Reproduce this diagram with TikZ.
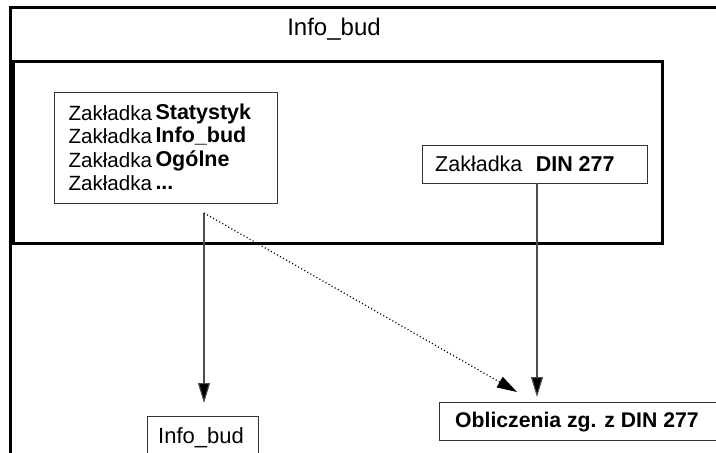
\documentclass[tikz,border=0pt]{standalone}
\usepackage{fontspec}
\setmainfont{Liberation Sans}
\usetikzlibrary{arrows.meta}
\newcommand{\tabname}[1]{\raisebox{1pt}{\fontsize{21.5}{23}\selectfont\bfseries #1}}
\begin{document}
\begin{tikzpicture}[x=1pt,y=-1pt,
  frame/.style={draw=black,line width=3pt},
  tabbox/.style={draw=black!80,line width=0.9pt,rectangle,inner sep=0pt},
  flow/.style={draw=black!70,line width=1.1pt,-{Triangle[length=20pt,width=12pt,fill=black]}},
  hint/.style={draw=black,line width=1.2pt,dash pattern=on 1.1pt off 2.4pt,
    -{Triangle[length=20pt,width=12pt,fill=black]}},
  txt/.style={font=\fontsize{20.6}{23.5}\selectfont,inner sep=0pt}
]
  \useasboundingbox (0,0) rectangle (716,453);
  % outer window (clipped on the right and below)
  \coordinate (ob) at (10.5,460);
  \coordinate (ot) at (10.5,7.5);
  \coordinate (or) at (720,7.5);
  \draw[frame] (ob) -- (ot) -- (or);
  \node[txt,font=\fontsize{24}{26}\selectfont] (title) at (334,29) {Info\_bud};
  % inner panel
  \node[frame,rectangle,inner sep=0pt,minimum width=649pt,minimum height=182pt] (panel) at (337.5,152) {};
  % tab list
  \node[tabbox,minimum width=223pt,minimum height=111pt,align=left,text width=194pt,
        inner xsep=14.5pt,txt] (tabs) at (165.5,147.5)
    {Zakładka\,\tabname{Statystyk}\\Zakładka\,\tabname{Info\_bud}\\Zakładka\,\tabname{Ogólne}\\Zakładka\,\tabname{...}};
  % DIN tab
  \node[tabbox,minimum width=225pt,minimum height=38pt] (din) at (534.5,164) {};
  \node[txt,font=\fontsize{21.5}{23}\selectfont,anchor=base west] (dint) at (435,171)
    {Zakładka\hspace{0.62em}\textbf{DIN 277}};
  % targets
  \node[tabbox,minimum width=111pt,minimum height=44pt,anchor=north west] (info) at (147,416) {};
  \node[txt,font=\fontsize{22}{24}\selectfont,anchor=base west] (infot) at (158,443) {Info\_bud};
  \node[tabbox,minimum width=290pt,minimum height=38pt,anchor=north west] (calc) at (439,402) {};
  \node[txt,font=\fontsize{21.2}{23}\selectfont,anchor=base west] (calct) at (455,427) {\textbf{Obliczenia zg. z DIN 277}};
  % connectors
  \coordinate (src) at (204,213);
  \coordinate (t1) at (204,403);
  \coordinate (t2) at (517,392);
  \coordinate (t3) at (537,397);
  \draw[flow] (src) -- (t1);
  \draw[hint] (src) -- (t2);
  \draw[flow] (din.south -| t3) -- (t3);
\end{tikzpicture}
\end{document}
